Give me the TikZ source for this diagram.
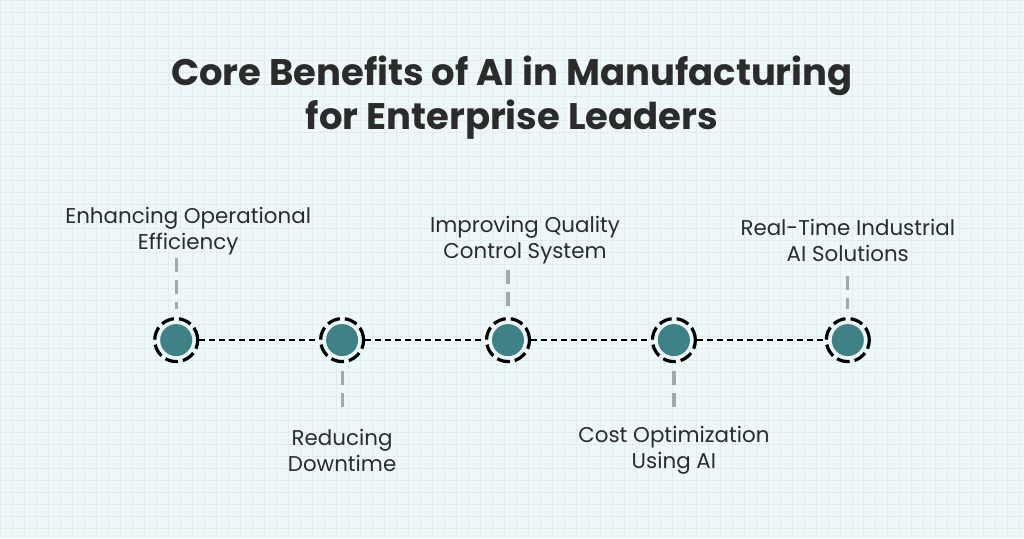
\documentclass[tikz,border=0pt]{standalone}
\usepackage{fontspec}
\setmainfont{Poppins}
\usetikzlibrary{positioning}
\definecolor{bgcol}{HTML}{EEF8FB}
\definecolor{gridcol}{HTML}{DFECF0}
\definecolor{dotcol}{HTML}{3E8187}
\definecolor{textcol}{HTML}{2B2B2B}
\definecolor{stemcol}{HTML}{A3A8A9}
\begin{document}
\begin{tikzpicture}[x=0.5pt, y=-0.5pt,
    dot/.style={circle, fill=dotcol, minimum size=16pt, inner sep=0pt},
    ring/.style={circle, draw=black, line width=1.6pt, dash pattern=on 6.5pt off 2.5pt, minimum size=21.5pt, inner sep=0pt},
    label/.style={font=\fontsize{10.7}{13}\selectfont, text=textcol, align=center},
    stem/.style={draw=stemcol, line width=1.6pt, dash pattern=on 7pt off 4pt, shorten <=4pt, shorten >=4pt}]
    % Background
    \fill[bgcol] (0,0) rectangle (1024,538);
    \draw[gridcol, line width=0.3pt, step=6pt] (0,0) grid (1024,538);
    \useasboundingbox (0,0) rectangle (1024,538);

    % Title
    \node[font=\fontsize{18.5}{22}\selectfont\bfseries, text=textcol, align=center] (title) at (512,97)
        {Core Benefits of AI in Manufacturing\\for Enterprise Leaders};

    % Milestones
    \foreach \n/\x in {a/176, b/342, c/508, d/674, e/848} {
        \node[ring] (r\n) at (\x,340) {};
        \node[dot] (d\n) at (\x,340) {};
    }
    \draw[black, line width=0.9pt, dash pattern=on 3pt off 2pt] (ra) -- (rb) -- (rc) -- (rd) -- (re);

    % Labels
    \node[label] (la) at (188,231) {Enhancing Operational\\Efficiency};
    \node[label] (lb) at (342,450) {Reducing\\Downtime};
    \node[label] (lc) at (525,240) {Improving Quality\\Control System};
    \node[label] (ld) at (674,450) {Cost Optimization\\Using AI};
    \node[label] (le) at (848,240) {Real-Time Industrial\\AI Solutions};

    % Stems
    \draw[stem] (176,250) -- (ra);
    \draw[stem] (rb) -- (lb);
    \draw[stem] (508,262) -- (rc);
    \draw[stem] (rd) -- (ld);
    \draw[stem] (le) -- (re);
\end{tikzpicture}
\end{document}
